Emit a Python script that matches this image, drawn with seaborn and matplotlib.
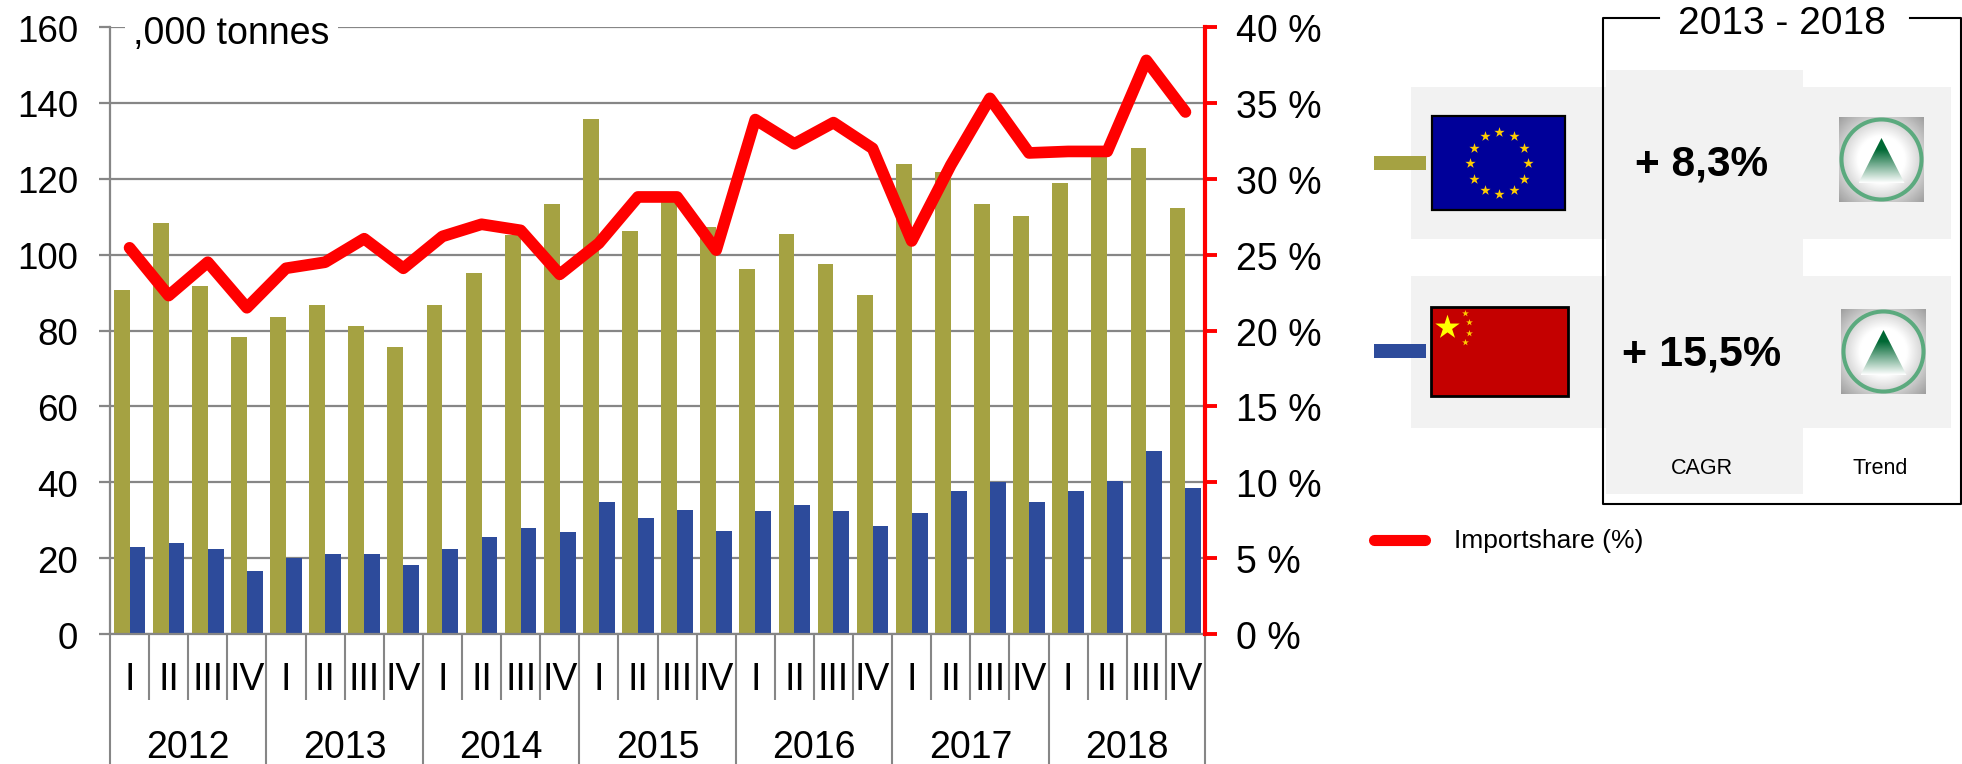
import numpy as np
import pandas as pd
import matplotlib
matplotlib.use("Agg")
import matplotlib.pyplot as plt
from matplotlib.patches import Rectangle, Polygon, Ellipse
from matplotlib.transforms import blended_transform_factory, ScaledTranslation
import seaborn as sns

years = ["2012", "2013", "2014", "2015", "2016", "2017", "2018"]
quarters = ["I", "II", "III", "IV"]
eu_imports = [90.8, 108.4, 91.8, 78.2, 83.6, 86.7, 81.1, 75.7, 86.8, 95.2,
              105.2, 113.4, 135.8, 106.1, 115.0, 107.4, 96.3, 105.5, 97.4, 89.3,
              124.0, 121.7, 113.3, 110.2, 119.0, 126.4, 128.0, 112.3]
china_imports = [23.0, 23.9, 22.4, 16.6, 20.0, 21.1, 21.0, 18.2, 22.5, 25.5,
                 27.9, 26.8, 34.9, 30.5, 32.8, 27.2, 32.5, 34.0, 32.5, 28.5,
                 32.0, 37.6, 40.1, 34.9, 37.8, 40.4, 48.3, 38.5]
import_share = [25.45, 22.3, 24.5, 21.5, 24.1, 24.5, 26.05, 24.1, 26.2, 27.0,
                26.6, 23.7, 25.75, 28.8, 28.8, 25.3, 33.9, 32.3, 33.7, 32.0,
                25.9, 30.9, 35.3, 31.7, 31.8, 31.8, 37.8, 34.4]
left_ticks = [0, 20, 40, 60, 80, 100, 120, 140, 160]
right_ticks = [0, 5, 10, 15, 20, 25, 30, 35, 40]
unit_label = ",000 tonnes"
period_label = "2013 - 2018"
cagr_eu = "+ 8,3%"
cagr_china = "+ 15,5%"
legend_label = "Importshare (%)"

OLIVE = "#A5A242"
BLUE = "#2D4B9B"
RED = "#FF0000"
GRAY = "#868686"
PANEL = "#F2F2F2"

sns.set_theme(style="white")
plt.rcParams["font.family"] = ["Liberation Sans", "DejaVu Sans"]

W, H = 1962, 764
fig = plt.figure(figsize=(W / 100, H / 100), dpi=100, facecolor="white")
L, R, T, B = 110, 1205, 27, 634
ax = fig.add_axes([L / W, (H - B) / H, (R - L) / W, (B - T) / H])

labels = [f"{y} {q}" for y in years for q in quarters]
df = pd.DataFrame({
    "period": labels * 2,
    "value": eu_imports + china_imports,
    "origin": ["EU"] * len(labels) + ["China"] * len(labels),
})
sns.barplot(data=df, x="period", y="value", hue="origin", order=labels,
            hue_order=["EU", "China"], palette={"EU": OLIVE, "China": BLUE},
            width=0.81, gap=0, saturation=1, legend=False, ax=ax, zorder=2,
            linewidth=0, edgecolor="none")
ax.set_xlim(-0.5, len(labels) - 0.5)
ax.set_ylim(0, 160)
ax.set_xlabel("")
ax.set_ylabel("")
ax.set_yticks(left_ticks)
ax.set_xticks(range(len(labels)))
ax.set_xticklabels(quarters * len(years))
ax.set_axisbelow(True)
ax.grid(axis="y", color=GRAY, lw=1.6)
ax.grid(axis="x", visible=False)
for s in ["top", "right"]:
    ax.spines[s].set_visible(False)
for s in ["left", "bottom"]:
    ax.spines[s].set_color(GRAY)
    ax.spines[s].set_linewidth(1.6)
ax.tick_params(axis="y", left=True, length=8, width=1.6, color=GRAY, pad=15,
               labelsize=26.5, labelcolor="black")
ax.tick_params(axis="x", bottom=False, length=0, pad=20, labelsize=27, labelcolor="black")
nudge = ScaledTranslation(0, -0.8 / 72, fig.dpi_scale_trans)
for t in ax.get_yticklabels():
    t.set_transform(t.get_transform() + nudge)

# multi-level category separators under the axis
trans = blended_transform_factory(ax.transData, ax.transAxes)
h = B - T
n = len(labels)
for k in range(n + 1):
    is_year = k % 4 == 0
    y_end = (B - (H + 5 if is_year else 700)) / h
    ax.plot([k - 0.5, k - 0.5], [0, y_end], transform=trans, color=GRAY, lw=1.5,
            clip_on=False, zorder=1, solid_capstyle="butt")
for i, y in enumerate(years):
    ax.text(i * 4 + 1.5, (B - 748) / h, y, transform=trans, ha="center", va="center",
            fontsize=27, color="black")

ax.text((133 - L) / (R - L), (B - 34) / h, unit_label, transform=ax.transAxes, ha="left",
        va="center", fontsize=27, color="black", zorder=5,
        bbox=dict(fc="white", ec="none", pad=6))

# share line on the right axis
ax2 = ax.twinx()
sns.lineplot(x=np.arange(n), y=import_share, color=RED, lw=8.4, ax=ax2, errorbar=None,
             solid_capstyle="round", solid_joinstyle="round", zorder=4)
ax2.set_xlim(-0.5, n - 0.5)
ax2.set_ylim(0, 40)
ax2.set_yticks(right_ticks)
ax2.set_yticklabels([f"{v} %" for v in right_ticks])
ax2.set_ylabel("")
ax2.grid(False)
for s in ["top", "left", "bottom"]:
    ax2.spines[s].set_visible(False)
ax2.spines["right"].set_color(RED)
ax2.spines["right"].set_linewidth(3.0)
ax2.tick_params(axis="y", right=True, length=8.5, width=2.8, color=RED, pad=14,
                labelsize=27, labelcolor="black")
for t in ax2.get_yticklabels():
    t.set_transform(t.get_transform() + nudge)

# side panel, drawn in pixel coordinates
ov = fig.add_axes([0, 0, 1, 1], zorder=10)
ov.patch.set_visible(False)
ov.axis("off")


def rect(x0, y0, x1, y1, **kw):
    ov.add_patch(Rectangle((x0, y0), x1 - x0, y1 - y0, lw=kw.pop("lw", 0), **kw))


for y0, y1 in [(87, 239), (276, 427.5)]:
    rect(1411, y0, 1951, y1, fc=PANEL, ec="none")
rect(1606, 70, 1803, 494, fc=PANEL, ec="none")

# frame with its title gap
frame = dict(color="black", lw=1.5, solid_capstyle="projecting")
ov.plot([1659, 1603, 1603, 1961, 1961, 1910], [18, 18, 504, 504, 18, 18], **frame)
ov.text(1782, 24, period_label, ha="center", va="center", fontsize=28, color="black")

# legend swatches
rect(1374, 156, 1426, 170, fc=OLIVE, ec="none")
rect(1374, 344, 1426, 358, fc=BLUE, ec="none")
ov.plot([1374, 1425], [540, 540], color=RED, lw=8, solid_capstyle="round")
ov.text(1454, 541, legend_label, ha="left", va="center", fontsize=19, color="black")

# EU flag
rect(1431.5, 115.5, 1565, 209.5, fc="#000099", ec="black", lw=1.6)
ang = np.deg2rad(np.arange(0, 360, 30))
ov.scatter(1499 + 29 * np.cos(ang), 163 + 31 * np.sin(ang), marker="*", s=60,
           color="#FFCC00", linewidths=0, zorder=5)

# China flag
rect(1431, 307, 1568, 395.5, fc="#C40000", ec="black", lw=2.0)
ov.scatter([1446.5], [327], marker="*", s=340, color="#FFFF00", linewidths=0, zorder=5)
ov.scatter([1465, 1469, 1469, 1465], [313, 322, 333, 342], marker="*", s=26,
           color="#FFCC00", linewidths=0, zorder=5)

# CAGR figures and captions
ov.text(1702, 165, cagr_eu, ha="center", va="center", fontsize=30.5, fontweight="bold", color="black")
ov.text(1702, 354, cagr_china, ha="center", va="center", fontsize=31, fontweight="bold", color="black")
ov.text(1702, 469, "CAGR", ha="center", va="center", fontsize=15.5, color="black")
ov.text(1880, 469, "Trend", ha="center", va="center", fontsize=15.5, color="black")


def trend_icon(x0, y0):
    x1, y1 = x0 + 85, y0 + 85
    cx, cy = (x0 + x1) / 2, (y0 + y1) / 2
    gx, gy = np.meshgrid(np.linspace(-1, 1, 170), np.linspace(-1, 1, 170))
    r = np.sqrt(gx ** 2 + gy ** 2)
    shade = np.clip((r - 0.55) / (1.41 - 0.55), 0, 1)
    level = 1 - shade * 0.38
    ov.imshow(level, extent=(x0, x1, y1, y0), cmap="gray", vmin=0, vmax=1,
              aspect="auto", zorder=3, interpolation="bilinear")
    ov.add_patch(Ellipse((cx, cy), 80, 80, fc="none", ec="#5BAA7E", lw=2.9, zorder=4))
    top, base = y0 + 21, y0 + 66
    ramp = np.linspace(0, 1, 100)[:, None]
    rgb = np.zeros((100, 1, 3))
    dark = np.array([0, 104, 52]) / 255
    for c in range(3):
        rgb[:, :, c] = dark[c] + (1 - dark[c]) * np.clip((ramp - 0.25) / 0.75, 0, 1)
    im = ov.imshow(rgb, extent=(cx - 23, cx + 23, base, top), aspect="auto", zorder=5,
                   interpolation="bilinear")
    tri = Polygon([(cx, top), (cx - 23, base), (cx + 23, base)], closed=True,
                  transform=ov.transData, fc="none", ec="none")
    ov.add_patch(tri)
    im.set_clip_path(tri)


trend_icon(1839, 117)
trend_icon(1841, 309)

ov.set_xlim(0, W)
ov.set_ylim(H, 0)

fig.savefig("out.png", dpi=100, facecolor="white")
